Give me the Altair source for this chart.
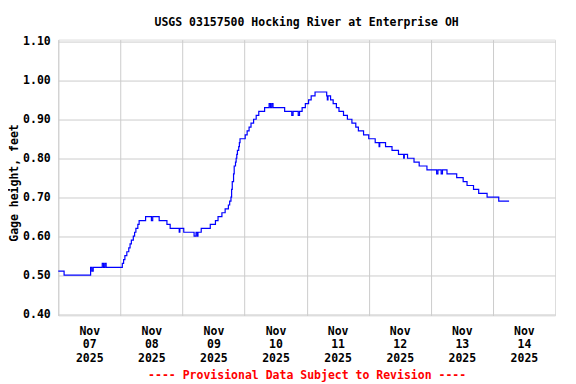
import altair as alt
import pandas as pd

# Step changes of gage height: hours since Nov 07 2025 00:00, value in feet
hours = [0, 2.25, 12.5, 13, 13.5, 17, 17.5, 18, 18.5, 24.75, 25.25, 25.75, 26.5, 27.25, 27.75,
         28.25, 29, 29.5, 30, 30.75, 31.25, 33.75, 36, 36.5, 39, 42, 43.25, 46.75, 47, 48.5,
         52.5, 53.25, 53.75, 54, 55.25, 58.75, 60.75, 61.75, 63.25, 64.5, 65.75, 66.25, 66.75,
         67, 67.25, 67.75, 68, 68.5, 68.75, 69, 69.25, 69.75, 70, 70.25, 72.25, 73, 73.75,
         74.5, 75.5, 76.5, 77.5, 79.75, 81.5, 82, 82.5, 83, 87.5, 90.25, 90.75, 92.75, 93.25,
         94.25, 95.5, 96.75, 97.75, 99.25, 103.75, 104, 104.25, 105.25, 106.25, 107.5, 108.5,
         110.25, 111.75, 113.5, 115, 116, 118, 120, 122.5, 124, 124.25, 126.5, 129, 131.5,
         133.5, 133.75, 135, 137.5, 139.5, 142.5, 146.25, 146.75, 148, 148.5, 150.25, 154,
         156.5, 158, 160.5, 162.5, 165.75, 170.25, 174.25]
values = [0.51, 0.50, 0.52, 0.51, 0.52, 0.53, 0.52, 0.53, 0.52, 0.53, 0.54, 0.55, 0.56, 0.57, 0.58,
          0.59, 0.60, 0.61, 0.62, 0.63, 0.64, 0.65, 0.64, 0.65, 0.64, 0.63, 0.62, 0.61, 0.62, 0.61,
          0.60, 0.61, 0.60, 0.61, 0.62, 0.63, 0.64, 0.65, 0.66, 0.67, 0.68, 0.69, 0.70,
          0.72, 0.74, 0.76, 0.78, 0.79, 0.80, 0.81, 0.82, 0.83, 0.84, 0.85, 0.86, 0.87, 0.88,
          0.89, 0.90, 0.91, 0.92, 0.93, 0.94, 0.93, 0.94, 0.93, 0.92, 0.91, 0.92, 0.91, 0.92,
          0.93, 0.94, 0.95, 0.96, 0.97, 0.96, 0.95, 0.96, 0.95, 0.94, 0.93, 0.92,
          0.91, 0.90, 0.89, 0.88, 0.87, 0.86, 0.85, 0.84, 0.83, 0.84, 0.83, 0.82, 0.81,
          0.80, 0.81, 0.80, 0.79, 0.78, 0.77, 0.76, 0.77, 0.76, 0.77, 0.76, 0.75,
          0.74, 0.73, 0.72, 0.71, 0.70, 0.69, 0.69]

y_ticks = [0.40, 0.50, 0.60, 0.70, 0.80, 0.90, 1.00, 1.10]
day_starts = [0, 24, 48, 72, 96, 120, 144, 168]

df = pd.DataFrame({"h": hours, "v": values})

FONT = "DejaVu Sans Mono"

chart = alt.Chart(df).mark_line(
    interpolate="step-after", color="#0000ff", strokeWidth=1.2
).encode(
    x=alt.X("h:Q",
            scale=alt.Scale(domain=[0, 192], nice=False, zero=False),
            axis=alt.Axis(values=day_starts,
                          labelExpr="['Nov', format(datum.value/24 + 7, '02d'), '2025']",
                          labelOffset=31, labelFlush=False, labelOverlap=False, labelBound=False,
                          labelPadding=10, labelLineHeight=13.5,
                          ticks=False, domain=False,
                          grid=True, gridColor="#cccccc", gridWidth=1,
                          labelFont=FONT, labelFontSize=11.5, labelFontWeight="bold", labelColor="black",
                          title="---- Provisional Data Subject to Revision ----",
                          titleFont=FONT, titleFontSize=11.5, titleFontWeight="bold", titleColor="#ff0000",
                          titlePadding=6)),
    y=alt.Y("v:Q",
            scale=alt.Scale(domain=[0.3965, 1.1045], nice=False, zero=False),
            axis=alt.Axis(values=y_ticks, format=".2f",
                          ticks=False, domain=False, labelPadding=8,
                          grid=True, gridColor="#cccccc", gridWidth=1,
                          labelFont=FONT, labelFontSize=11.5, labelFontWeight="bold", labelColor="black",
                          title="Gage height, feet",
                          titleFont=FONT, titleFontSize=11.5, titleFontWeight="bold", titleColor="black",
                          titlePadding=3, titleY=143))
).properties(
    width=497, height=276,
    title=alt.TitleParams("USGS 03157500 Hocking River at Enterprise OH",
                          font=FONT, fontSize=11.5, fontWeight="bold", color="black",
                          anchor="middle", baseline="alphabetic", frame="group", offset=-2.5),
    autosize=alt.AutoSizeParams(type="none"),
    padding={"left": 50.3, "top": 31.5, "right": 13, "bottom": 80}
).configure_view(
    stroke="black", strokeWidth=2
).configure(background="white")

chart.save("out.html", embed_options={"renderer": "svg", "actions": False})
